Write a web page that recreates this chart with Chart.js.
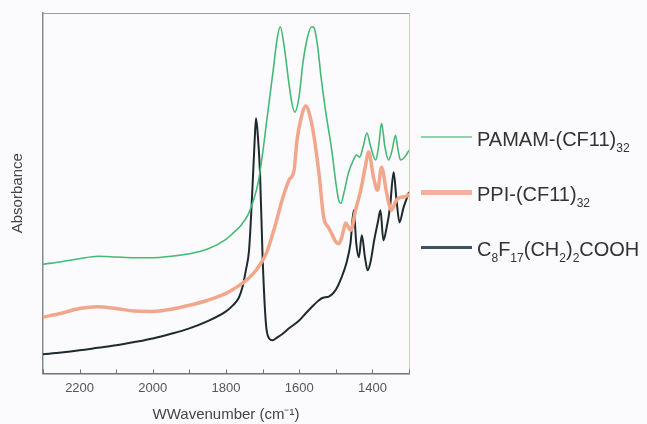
<!DOCTYPE html>
<html>
<head>
<meta charset="utf-8">
<script src="https://cdn.jsdelivr.net/npm/chart.js@4/dist/chart.umd.min.js"></script>
<style>
  html, body { margin: 0; padding: 0; background: #fbfbfd; }
  #wrap { position: relative; width: 647px; height: 424px; font-family: "Liberation Sans", Arial, sans-serif; }
  #wrap canvas { position: absolute; left: 0; top: 0; }
  .key { position: absolute; left: 421px; height: 20px; white-space: nowrap; }
  .key .swatch { position: absolute; left: 0; width: 51px; }
  .key .label { position: absolute; left: 56px; top: 0; line-height: 20px; font-size: 20px; color: #333; }
  .key sub { font-size: 12px; vertical-align: -6px; line-height: 0; }
</style>
</head>
<body>
<div id="wrap">
  <canvas id="irChart" width="647" height="424"></canvas>
</div>
<script>
// wavenumber (cm-1) and absorbance (arbitrary, offset)
var pamamX = [2300, 2250, 2200, 2150, 2100, 2050, 2000, 1950, 1900, 1850, 1800, 1780, 1760, 1740, 1725, 1712, 1700, 1690, 1680, 1670, 1660, 1652, 1640, 1630, 1620, 1612, 1600, 1590, 1578, 1566, 1560, 1550, 1540, 1527, 1511, 1500, 1492, 1486, 1478, 1465, 1455, 1443, 1435, 1425, 1415, 1405, 1391, 1383, 1375, 1366, 1356, 1346, 1337, 1330, 1323, 1312, 1300];
var pamamY = [0.303, 0.31, 0.318, 0.325, 0.323, 0.321, 0.321, 0.325, 0.332, 0.345, 0.372, 0.39, 0.41, 0.44, 0.48, 0.53, 0.61, 0.69, 0.77, 0.85, 0.93, 0.962, 0.9, 0.82, 0.75, 0.725, 0.77, 0.86, 0.93, 0.962, 0.96, 0.91, 0.82, 0.722, 0.619, 0.53, 0.48, 0.472, 0.5, 0.558, 0.585, 0.606, 0.6, 0.63, 0.667, 0.63, 0.592, 0.63, 0.694, 0.63, 0.592, 0.62, 0.661, 0.62, 0.592, 0.6, 0.619];

var ppiX = [2300, 2250, 2200, 2150, 2100, 2050, 2000, 1950, 1900, 1850, 1800, 1770, 1745, 1718, 1690, 1664, 1647, 1628, 1614, 1606, 1596, 1582, 1568, 1560, 1546, 1533, 1520, 1510, 1500, 1492, 1483, 1473, 1465, 1459, 1446, 1432, 1420, 1410, 1397, 1386, 1375, 1361, 1348, 1335, 1323, 1310, 1300];
var ppiY = [0.156, 0.167, 0.18, 0.185, 0.18, 0.173, 0.172, 0.178, 0.189, 0.203, 0.222, 0.24, 0.258, 0.286, 0.333, 0.416, 0.48, 0.536, 0.564, 0.647, 0.703, 0.742, 0.703, 0.66, 0.555, 0.433, 0.405, 0.385, 0.365, 0.36, 0.38, 0.417, 0.405, 0.397, 0.453, 0.508, 0.57, 0.614, 0.544, 0.508, 0.572, 0.5, 0.453, 0.48, 0.489, 0.49, 0.5];

var acidX = [2300, 2250, 2200, 2150, 2100, 2050, 2000, 1950, 1900, 1850, 1800, 1780, 1765, 1755, 1745, 1737, 1728, 1722, 1718, 1713, 1707, 1700, 1691, 1682, 1673, 1660, 1645, 1628, 1600, 1582, 1560, 1546, 1535, 1519, 1500, 1484, 1470, 1460, 1451, 1444, 1437, 1429, 1420, 1413, 1405, 1395, 1385, 1378, 1370, 1362, 1352, 1342, 1334, 1326, 1315, 1300];
var acidY = [0.053, 0.058, 0.064, 0.071, 0.078, 0.087, 0.097, 0.11, 0.125, 0.145, 0.172, 0.19, 0.21, 0.24, 0.29, 0.342, 0.508, 0.64, 0.708, 0.66, 0.555, 0.322, 0.139, 0.097, 0.092, 0.1, 0.11, 0.125, 0.147, 0.167, 0.19, 0.203, 0.21, 0.213, 0.232, 0.267, 0.31, 0.36, 0.453, 0.36, 0.322, 0.383, 0.32, 0.286, 0.31, 0.37, 0.42, 0.453, 0.369, 0.4, 0.46, 0.558, 0.48, 0.419, 0.46, 0.503];

var xTicks = [2200, 2000, 1800, 1600, 1400];

function pts(xs, ys) {
  return xs.map(function (x, i) { return { x: x, y: ys[i] }; });
}

// inward tick marks on the bottom axis, plus top / right frame lines
var frame = {
  id: "frame",
  afterDraw: function (chart) {
    var ctx = chart.ctx, a = chart.chartArea, xs = chart.scales.x;
    ctx.save();
    ctx.lineWidth = 1;
    ctx.strokeStyle = "#9aa0a2";
    ctx.beginPath();
    ctx.moveTo(a.left, a.top + 0.5);
    ctx.lineTo(a.right, a.top + 0.5);
    ctx.stroke();
    ctx.strokeStyle = "#e9c1b3";
    ctx.beginPath();
    ctx.moveTo(a.right + 0.5, a.top);
    ctx.lineTo(a.right + 0.5, a.bottom);
    ctx.stroke();
    ctx.strokeStyle = "#6f7577";
    xs.ticks.forEach(function (t) {
      var px = Math.round(xs.getPixelForValue(t.value)) + 0.5;
      ctx.beginPath();
      ctx.moveTo(px, a.bottom);
      ctx.lineTo(px, a.bottom - 4);
      ctx.stroke();
    });
    ctx.restore();
  }
};

var chart = new Chart("irChart", {
  type: "line",
  data: {
    datasets: [
      {
        label: "PAMAM-(CF11)32",
        data: pts(pamamX, pamamY),
        borderColor: "#45b975",
        borderWidth: 1.6,
        pointRadius: 0,
        fill: false,
        cubicInterpolationMode: "monotone",
      },
      {
        label: "PPI-(CF11)32",
        data: pts(ppiX, ppiY),
        borderColor: "#f2a68c",
        borderWidth: 3.5,
        pointRadius: 0,
        fill: false,
        cubicInterpolationMode: "monotone",
      },
      {
        label: "C8F17(CH2)2COOH",
        data: pts(acidX, acidY),
        borderColor: "#1d2a30",
        borderWidth: 2,
        pointRadius: 0,
        fill: false,
        cubicInterpolationMode: "monotone",
      },
    ],
  },
  options: {
    responsive: false,
    animation: false,
    layout: { padding: { top: 13, right: 238, left: 0, bottom: 0 } },
    plugins: { legend: { display: false }, tooltip: { enabled: false } },
    scales: {
      x: {
        type: "linear",
        reverse: true,
        min: 1300,
        max: 2300,
        grid: { display: false, drawTicks: false },
        border: { display: true, color: "#6f7577", width: 1.5 },
        ticks: {
          stepSize: 100,
          padding: 7,
          color: "#555",
          font: { family: "Liberation Sans", size: 13 },
          callback: function (v) { return xTicks.indexOf(v) >= 0 ? v : ""; },
        },
        title: {
          display: true,
          text: "WWavenumber (cm⁻¹)",
          color: "#444",
          font: { family: "Liberation Sans", size: 15 },
          padding: { top: 3, bottom: 0 },
        },
      },
      y: {
        min: 0,
        max: 1,
        grid: { display: false, drawTicks: false },
        border: { display: true, color: "#858b8d", width: 1.5 },
        ticks: { display: false },
        title: {
          display: true,
          text: "Absorbance",
          color: "#444",
          font: { family: "Liberation Sans", size: 15 },
          padding: { top: 9, bottom: 16 },
        },
      },
    },
  },
  plugins: [frame],
});

// legend with subscripts, built from the datasets
var keyRows = [
  { y: 137, html: "PAMAM-(CF11)<sub>32</sub>", width: 1.6, color: "#8fd3ae" },
  { y: 192, html: "PPI-(CF11)<sub>32</sub>", width: 5, color: "#f5b09a" },
  { y: 247, html: "C<sub>8</sub>F<sub>17</sub>(CH<sub>2</sub>)<sub>2</sub>COOH", width: 3, color: "#3b5361" },
];
var wrap = document.getElementById("wrap");
keyRows.forEach(function (r) {
  var d = document.createElement("div");
  d.className = "key";
  d.style.top = (r.y - 8) + "px";
  d.innerHTML = '<div class="swatch" style="top:' + (8 - r.width / 2) + 'px;height:' + r.width +
    'px;background:' + r.color + '"></div><div class="label">' + r.html + "</div>";
  wrap.appendChild(d);
});
</script>
</body>
</html>
